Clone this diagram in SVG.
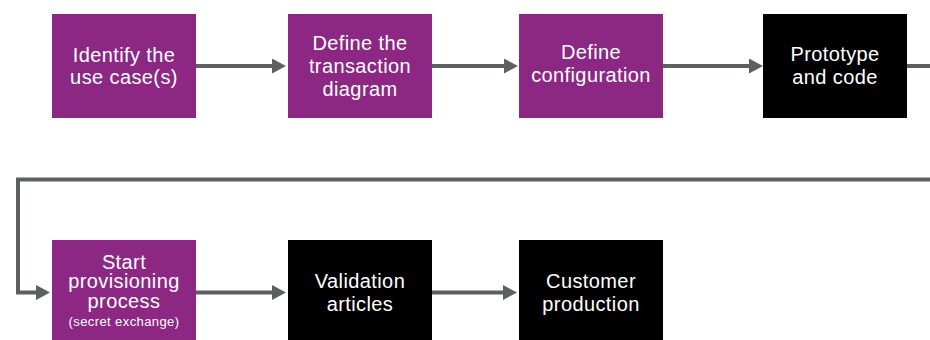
<svg xmlns="http://www.w3.org/2000/svg" width="930" height="340" viewBox="0 0 930 340">
  <style>
    .step-purple { fill: #8d2784; }
    .step-black { fill: #000000; }
    .label { fill: #ffffff; font-family: "Liberation Sans", Arial, Helvetica, sans-serif; font-size: 20px; letter-spacing: 0.4px; text-anchor: middle; }
    .note { font-size: 13px; }
    .link { fill: none; stroke: #5b6061; stroke-width: 4; marker-end: url(#arrow); }
  </style>
  <defs>
    <marker id="arrow" viewBox="0 0 14 15" refX="6" refY="7.5" markerWidth="14" markerHeight="15" markerUnits="userSpaceOnUse" orient="auto">
      <path d="M0,0 L14,7.5 L0,15 Z" fill="#5b6061"/>
    </marker>
  </defs>
  <rect width="930" height="340" fill="#ffffff"/>

  <!-- connectors -->
  <g id="connectors">
    <path class="link" d="M196,66 H278"/>
    <path class="link" d="M432,66 H510"/>
    <path class="link" d="M663,66 H755"/>
    <path class="link" d="M907,66 H932 V179.5 H18 V292.5 H42"/>
    <path class="link" d="M196,292.5 H278"/>
    <path class="link" d="M432,292.5 H509"/>
  </g>

  <!-- first row -->
  <g id="identify-use-cases">
    <rect class="step-purple" x="52" y="14" width="144" height="104"/>
    <text class="label"><tspan x="124" y="61.5">Identify the</tspan><tspan x="124" y="84">use case(s)</tspan></text>
  </g>
  <g id="define-transaction-diagram">
    <rect class="step-purple" x="288" y="14" width="144" height="104"/>
    <text class="label"><tspan x="360" y="50">Define the</tspan><tspan x="360" y="73">transaction</tspan><tspan x="360" y="96">diagram</tspan></text>
  </g>
  <g id="define-configuration">
    <rect class="step-purple" x="519" y="14" width="144" height="104"/>
    <text class="label"><tspan x="591" y="58.5">Define</tspan><tspan x="591" y="82">configuration</tspan></text>
  </g>
  <g id="prototype-and-code">
    <rect class="step-black" x="763" y="14" width="144" height="104"/>
    <text class="label"><tspan x="835" y="60.5">Prototype</tspan><tspan x="835" y="83.5">and code</tspan></text>
  </g>

  <!-- second row -->
  <g id="start-provisioning">
    <rect class="step-purple" x="52" y="240" width="144" height="100"/>
    <text class="label"><tspan x="124" y="269">Start</tspan><tspan x="124" y="288">provisioning</tspan><tspan x="124" y="307.5">process</tspan><tspan class="note" x="124" y="325.5">(secret exchange)</tspan></text>
  </g>
  <g id="validation-articles">
    <rect class="step-black" x="288" y="240" width="144" height="100"/>
    <text class="label"><tspan x="360" y="288">Validation</tspan><tspan x="360" y="311">articles</tspan></text>
  </g>
  <g id="customer-production">
    <rect class="step-black" x="519" y="240" width="144" height="100"/>
    <text class="label"><tspan x="591" y="288">Customer</tspan><tspan x="591" y="311">production</tspan></text>
  </g>
</svg>
